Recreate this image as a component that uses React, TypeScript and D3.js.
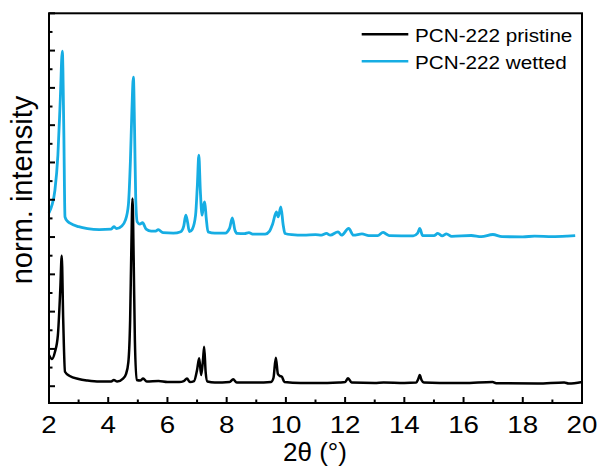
import React from "react";
import * as d3 from "d3";

// 2θ positions (degrees) and normalized intensity, pristine sample
const pristineTheta = [2.0, 2.1, 2.2, 2.3, 2.38, 2.43, 2.48, 2.54, 2.7, 3.0, 3.3, 3.7, 4.1, 4.19, 4.3, 4.5, 4.6, 4.68, 4.74, 4.78, 4.82, 4.86, 4.9, 4.96, 5.08, 5.18, 5.3, 5.7, 6.0, 6.4, 6.55, 6.66, 6.76, 6.9, 7.0, 7.07, 7.14, 7.2, 7.24, 7.29, 7.35, 7.6, 8.1, 8.22, 8.34, 9.0, 9.5, 9.58, 9.66, 9.73, 9.8, 9.86, 9.95, 10.5, 11.4, 11.8, 12.0, 12.1, 12.22, 13.0, 13.3, 14.0, 14.4, 14.47, 14.52, 14.58, 14.66, 15.2, 16.0, 16.98, 17.1, 18.5, 19.4, 19.55, 20.0];
const pristineIntensity = [0.836, 0.729, 0.916, 1.372, 2.577, 3.496, 1.773, 0.388, 0.273, 0.193, 0.153, 0.126, 0.126, 0.166, 0.126, 0.206, 0.327, 0.648, 1.773, 3.649, 5.034, 3.381, 1.238, 0.166, 0.153, 0.206, 0.126, 0.139, 0.113, 0.113, 0.139, 0.206, 0.113, 0.139, 0.434, 0.747, 0.3, 0.702, 1.058, 0.38, 0.126, 0.099, 0.113, 0.185, 0.099, 0.099, 0.113, 0.22, 0.763, 0.327, 0.273, 0.26, 0.113, 0.086, 0.086, 0.099, 0.113, 0.212, 0.099, 0.086, 0.099, 0.086, 0.099, 0.193, 0.3, 0.166, 0.099, 0.086, 0.086, 0.113, 0.08, 0.072, 0.099, 0.072, 0.113];

// wetted sample (vertically offset in the original figure)
const wettedTheta = [2.0, 2.1, 2.2, 2.3, 2.38, 2.45, 2.5, 2.54, 2.62, 2.71, 3.0, 3.3, 3.7, 4.1, 4.19, 4.28, 4.45, 4.58, 4.68, 4.75, 4.8, 4.85, 4.89, 4.93, 4.98, 5.07, 5.16, 5.28, 5.45, 5.6, 5.69, 5.85, 6.2, 6.45, 6.55, 6.62, 6.68, 6.74, 6.84, 6.95, 7.01, 7.06, 7.11, 7.17, 7.22, 7.26, 7.31, 7.37, 7.6, 7.95, 8.1, 8.19, 8.28, 8.35, 8.6, 8.75, 8.9, 9.3, 9.45, 9.55, 9.68, 9.74, 9.83, 9.91, 9.97, 10.2, 10.6, 11.0, 11.2, 11.37, 11.5, 11.76, 11.88, 12.12, 12.28, 12.57, 12.8, 13.1, 13.28, 13.4, 13.5, 14.3, 14.45, 14.52, 14.62, 15.0, 15.13, 15.28, 15.42, 15.6, 16.26, 16.6, 16.99, 17.3, 18.0, 18.4, 19.0, 19.5, 19.77];
const wettedIntensity = [4.648, 4.854, 5.256, 6.193, 7.667, 8.987, 6.863, 4.541, 4.425, 4.372, 4.278, 4.225, 4.198, 4.211, 4.278, 4.225, 4.291, 4.452, 4.854, 6.059, 7.399, 8.291, 6.863, 4.988, 4.407, 4.345, 4.385, 4.211, 4.158, 4.158, 4.198, 4.117, 4.104, 4.144, 4.291, 4.586, 4.399, 4.144, 4.211, 4.586, 5.39, 6.193, 5.256, 4.586, 4.854, 4.942, 4.506, 4.139, 4.104, 4.104, 4.238, 4.514, 4.184, 4.096, 4.09, 4.117, 4.077, 4.077, 4.158, 4.345, 4.675, 4.541, 4.808, 4.318, 4.096, 4.064, 4.05, 4.064, 4.05, 4.096, 4.05, 4.139, 4.05, 4.23, 4.05, 4.085, 4.037, 4.037, 4.123, 4.077, 4.037, 4.032, 4.104, 4.23, 4.037, 4.037, 4.096, 4.032, 4.085, 4.016, 4.042, 4.01, 4.069, 4.01, 4.005, 4.024, 4.01, 4.024, 4.037];

const xMajorTicks = [2, 4, 6, 8, 10, 12, 14, 16, 18, 20];
const xMinorTicks = [3, 5, 7, 9, 11, 13, 15, 17, 19];
const yMajorTicks = [0, 1, 2, 3, 4, 5, 6, 7, 8, 9, 10];
const yMinorTicks = [0.5, 1.5, 2.5, 3.5, 4.5, 5.5, 6.5, 7.5, 8.5, 9.5];

const seriesNames = ["PCN-222 pristine", "PCN-222 wetted"];
const seriesColors = ["#000000", "#16ADE3"];

const W = 603;
const H = 473;
const left = 49, right = 582, top = 13.3, bottom = 403;

export default function App() {
  const x = d3.scaleLinear().domain([2, 20]).range([left, right]);
  const y = d3.scaleLinear().domain([-0.45, 10]).range([bottom, top]);
  const line = d3
    .line<[number, number]>()
    .x((d) => x(d[0]))
    .y((d) => y(d[1]))
    .curve(d3.curveMonotoneX);
  const pristine = pristineTheta.map((t, i) => [t, pristineIntensity[i]] as [number, number]);
  const wetted = wettedTheta.map((t, i) => [t, wettedIntensity[i]] as [number, number]);
  const font = "Liberation Sans, Arial, sans-serif";

  return (
    <svg width={W} height={H} style={{ position: "absolute", left: 0, top: 0, background: "#fff" }}>
      <rect x={0} y={0} width={W} height={H} fill="#fff" />
      <path d={line(wetted) ?? ""} fill="none" stroke={seriesColors[1]} strokeWidth={2.8} strokeLinejoin="round" />
      <path d={line(pristine) ?? ""} fill="none" stroke={seriesColors[0]} strokeWidth={2.5} strokeLinejoin="round" />
      {/* frame */}
      <rect x={left} y={top} width={right - left} height={bottom - top} fill="none" stroke="#000" strokeWidth={2} />
      {xMajorTicks.map((t) => (
        <line key={"xM" + t} x1={x(t)} x2={x(t)} y1={bottom} y2={bottom - 6} stroke="#000" strokeWidth={2} />
      ))}
      {xMinorTicks.map((t) => (
        <line key={"xm" + t} x1={x(t)} x2={x(t)} y1={bottom} y2={bottom - 3.5} stroke="#000" strokeWidth={2} />
      ))}
      {yMajorTicks.map((t) => (
        <line key={"yM" + t} x1={left} x2={left + 6} y1={y(t)} y2={y(t)} stroke="#000" strokeWidth={2} />
      ))}
      {yMinorTicks.map((t) => (
        <line key={"ym" + t} x1={left} x2={left + 3.5} y1={y(t)} y2={y(t)} stroke="#000" strokeWidth={2} />
      ))}
      {xMajorTicks.map((t) => (
        <g key={"xl" + t} transform={`translate(${x(t)},${432.7}) scale(1.18,1)`}>
          <text textAnchor="middle" fontFamily={font} fontSize={23.5} fill="#000">
            {t}
          </text>
        </g>
      ))}
      <text x={315} y={461} textAnchor="middle" fontFamily={font} fontSize={26} fill="#000">
        2θ (°)
      </text>
      <text
        transform={`translate(32,190) rotate(-90)`}
        textAnchor="middle"
        fontFamily={font}
        fontSize={29}
        fill="#000"
      >
        norm. intensity
      </text>
      {seriesNames.map((name, i) => (
        <g key={name}>
          <line x1={361.7} x2={408.3} y1={34.3 + i * 27} y2={34.3 + i * 27} stroke={seriesColors[i]} strokeWidth={2.5} />
          <g transform={`translate(415,${41.7 + i * 27}) scale(1.1,1)`}>
            <text fontFamily={font} fontSize={18.8} fill="#000">
              {name}
            </text>
          </g>
        </g>
      ))}
    </svg>
  );
}
